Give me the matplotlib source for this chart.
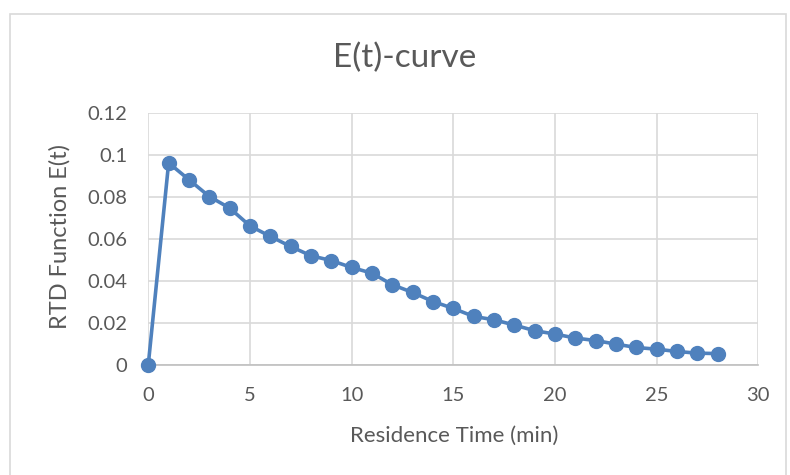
import matplotlib
matplotlib.use("Agg")
import matplotlib.pyplot as plt
from matplotlib.patches import Rectangle

t_min = [0, 1, 2, 3, 4, 5, 6, 7, 8, 9, 10, 11, 12, 13, 14, 15, 16, 17, 18, 19,
         20, 21, 22, 23, 24, 25, 26, 27, 28]
E_t = [0.0, 0.096, 0.088, 0.080, 0.0745, 0.066, 0.061, 0.0562, 0.0518, 0.0495,
       0.0462, 0.0435, 0.038, 0.0343, 0.030, 0.0267, 0.0229, 0.0213, 0.0188,
       0.0161, 0.0145, 0.0126, 0.0114, 0.0097, 0.0081, 0.0073, 0.0062, 0.0054,
       0.0052]
x_ticks = [0, 5, 10, 15, 20, 25, 30]
y_ticks = [0, 0.02, 0.04, 0.06, 0.08, 0.1, 0.12]
y_tick_labels = ["0", "0.02", "0.04", "0.06", "0.08", "0.1", "0.12"]
title = "E(t)-curve"
x_label = "Residence Time (min)"
y_label = "RTD Function E(t)"

plt.rcParams['font.family'] = ['Lato', 'DejaVu Sans']
txt = '#595959'

fig = plt.figure(figsize=(7.9, 4.75), dpi=100)
fig.patches.append(Rectangle((10/790, -0.1), 776/790, 1 - 14/475 + 0.1,
                             transform=fig.transFigure, fill=False,
                             edgecolor='#D9D9D9', linewidth=1.2))
ax = fig.add_axes([148.3/790, 1 - 364.5/475, 610/790, 252/475])
ax.plot(t_min, E_t, color='#4F81BD', linewidth=2.6, marker='o',
        markersize=10, zorder=3, clip_on=False)
ax.set_xlim(0, 30)
ax.set_ylim(0, 0.12)
ax.set_xticks(x_ticks)
ax.set_yticks(y_ticks)
ax.set_yticklabels(y_tick_labels)
ax.grid(True, color='#D9D9D9', linewidth=1.2)
ax.set_axisbelow(True)
for s in ['top', 'right', 'left']:
    ax.spines[s].set_visible(False)
ax.spines['bottom'].set_color('#BFBFBF')
ax.spines['bottom'].set_linewidth(1.2)
ax.tick_params(length=0, labelsize=14.5, colors=txt)
ax.tick_params(axis='x', pad=16)
ax.tick_params(axis='y', pad=15)
ax.set_xlabel(x_label, fontsize=16, color=txt)
ax.set_ylabel(y_label, fontsize=17, color=txt)
ax.xaxis.set_label_coords(0.501, -0.284)
ax.yaxis.set_label_coords(-0.1448, 0.508)
ax.xaxis.label.set_va('center')
ax.yaxis.label.set_va('center')
fig.text(404.5/790, 1 - 58/475, title, fontsize=24, color=txt,
         ha='center', va='center')
fig.savefig("out.png", dpi=100)
